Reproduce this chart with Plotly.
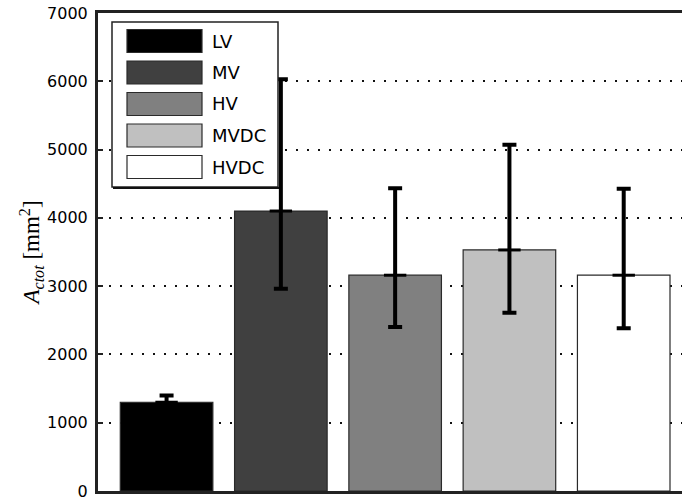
import plotly.graph_objects as go

categories = ["LV", "MV", "HV", "MVDC", "HVDC"]
values = [1300, 4100, 3160, 3530, 3160]
err_plus = [100, 1930, 1275, 1540, 1265]
err_minus = [60, 1140, 760, 920, 775]
colors = ["#000000", "#404040", "#808080", "#c0c0c0", "#ffffff"]
yticks = [0, 1000, 2000, 3000, 4000, 5000, 6000, 7000]

xs = list(range(1, len(categories) + 1))

fig = go.Figure()
for i, c in enumerate(categories):
    fig.add_trace(go.Bar(
        x=[xs[i]], y=[values[i]], name=c, width=0.81,
        marker=dict(color=colors[i], line=dict(color="#2a2a2a", width=1.2)),
        error_y=dict(type="data", symmetric=False, array=[err_plus[i]],
                     arrayminus=[err_minus[i]], color="#000000",
                     thickness=4, width=7),
        showlegend=False,
    ))

fig.add_trace(go.Scatter(
    x=xs, y=values, mode="markers",
    marker=dict(symbol="line-ew", size=16, line=dict(color="#000000", width=3)),
    showlegend=False, hoverinfo="skip",
))

W, H = 682, 497
L, R, T, B = 98, 0, 13, 6
pw, ph = W - L - R, H - T - B

def px(x):
    return (x - L) / pw

def py(y):
    return 1 - (y - T) / ph

shapes = []
annotations = []
# legend box
shapes.append(dict(type="rect", xref="paper", yref="paper",
                   x0=px(112), x1=px(278), y0=py(187), y1=py(22),
                   fillcolor="#ffffff", line=dict(color="#222222", width=1.5), layer="above"))
shapes.append(dict(type="line", xref="paper", yref="paper",
                   x0=px(113), x1=px(279), y0=py(188), y1=py(188),
                   line=dict(color="#111111", width=2), layer="above"))
row0, step = 41, 31.5
for i, c in enumerate(categories):
    yc = row0 + i * step
    shapes.append(dict(type="rect", xref="paper", yref="paper",
                       x0=px(127), x1=px(202), y0=py(yc + 11.5), y1=py(yc - 11.5),
                       fillcolor=colors[i], line=dict(color="#2a2a2a", width=1.2), layer="above"))
    annotations.append(dict(text=c, xref="paper", yref="paper", x=px(210), y=py(yc),
                            xanchor="left", yanchor="middle", showarrow=False,
                            font=dict(family="DejaVu Sans", size=18, color="#000000")))

fig.update_layout(
    width=W, height=H,
    margin=dict(l=L, r=R, t=T, b=B, pad=0, autoexpand=False),
    plot_bgcolor="#ffffff", paper_bgcolor="#ffffff",
    barmode="overlay",
    shapes=shapes, annotations=annotations,
    font=dict(family="DejaVu Sans", size=16, color="#000000"),
)
fig.update_xaxes(range=[0.4, 5.51], showgrid=False, zeroline=False,
                 showticklabels=False, ticks="",
                 showline=True, linecolor="#222222", linewidth=3, mirror=True)
fig.update_yaxes(range=[0, 7000], tickvals=yticks, ticktext=[str(v) for v in yticks],
                 showgrid=True, gridcolor="#111111", gridwidth=2, griddash="2px,9px",
                 zeroline=False, ticks="inside", ticklen=5, tickwidth=2, tickcolor="#222222",
                 showline=True, linecolor="#222222", linewidth=3, mirror=False,
                 ticklabelstandoff=4, automargin=False, ticklabeloverflow="allow",
                 title=dict(text="<i>A</i><sub><i>ctot</i></sub> [mm<sup>2</sup>]",
                            font=dict(family="Liberation Serif", size=23, color="#000000"),
                            standoff=0))

fig.write_html("out.html", config={"displayModeBar": False},
               post_script="document.body.style.margin='0';document.body.style.overflow='hidden';")
